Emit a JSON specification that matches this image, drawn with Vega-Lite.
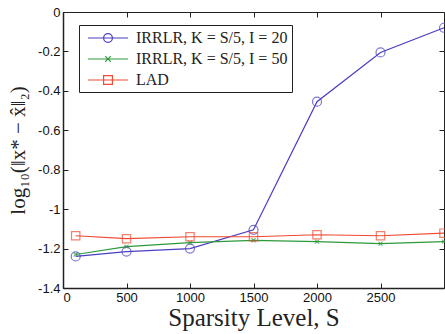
{
  "$schema": "https://vega.github.io/schema/vega-lite/v6.json",
  "autosize": "none",
  "width": 381,
  "height": 276,
  "padding": {"left": 63, "top": 12, "right": 1, "bottom": 46},
  "background": "white",
  "title": {"text": "m = 200, n = 3000", "font": "Liberation Serif", "fontSize": 20, "fontWeight": "normal", "color": "#222", "anchor": "middle", "dx": 62, "baseline": "alphabetic", "offset": 2},
  "config": {
    "view": {"stroke": "#222", "strokeWidth": 1},
    "axis": {"labelFont": "Liberation Sans", "labelFontSize": 13, "labelColor": "#111", "domainColor": "#222", "domainWidth": 1.5, "tickColor": "#222", "grid": false}
  },
  "resolve": {"axis": {"x": "independent", "y": "independent"}},
  "data": {"values": [
    {"series": "IRRLR, K = S/5, I = 20", "S": 100, "err": -1.24},
    {"series": "IRRLR, K = S/5, I = 20", "S": 500, "err": -1.215},
    {"series": "IRRLR, K = S/5, I = 20", "S": 1000, "err": -1.2},
    {"series": "IRRLR, K = S/5, I = 20", "S": 1500, "err": -1.105},
    {"series": "IRRLR, K = S/5, I = 20", "S": 2000, "err": -0.455},
    {"series": "IRRLR, K = S/5, I = 20", "S": 2500, "err": -0.205},
    {"series": "IRRLR, K = S/5, I = 20", "S": 3000, "err": -0.08},
    {"series": "IRRLR, K = S/5, I = 50", "S": 100, "err": -1.23},
    {"series": "IRRLR, K = S/5, I = 50", "S": 500, "err": -1.19},
    {"series": "IRRLR, K = S/5, I = 50", "S": 1000, "err": -1.17},
    {"series": "IRRLR, K = S/5, I = 50", "S": 1500, "err": -1.158},
    {"series": "IRRLR, K = S/5, I = 50", "S": 2000, "err": -1.165},
    {"series": "IRRLR, K = S/5, I = 50", "S": 2500, "err": -1.175},
    {"series": "IRRLR, K = S/5, I = 50", "S": 3000, "err": -1.165},
    {"series": "LAD", "S": 100, "err": -1.135},
    {"series": "LAD", "S": 500, "err": -1.15},
    {"series": "LAD", "S": 1000, "err": -1.14},
    {"series": "LAD", "S": 1500, "err": -1.14},
    {"series": "LAD", "S": 2000, "err": -1.13},
    {"series": "LAD", "S": 2500, "err": -1.135},
    {"series": "LAD", "S": 3000, "err": -1.122}
  ]},
  "layer": [
    {"mark": {"type": "line", "strokeWidth": 1.2},
      "encoding": {
        "x": {"field": "S", "type": "quantitative", "scale": {"domain": [0, 3000], "nice": false},
          "axis": {"values": [0, 500, 1000, 1500, 2000, 2500], "format": "d", "tickSize": -5, "title": "Sparsity Level, S", "titleFont": "Liberation Serif", "titleFontSize": 25, "titleFontWeight": "normal", "titleColor": "#222", "titlePadding": 1, "labelPadding": 8}},
        "y": {"field": "err", "type": "quantitative", "scale": {"domain": [-1.4, 0], "nice": false},
          "axis": {"values": [0, -0.2, -0.4, -0.6, -0.8, -1, -1.2, -1.4], "tickSize": -5, "labelExpr": "replace(format(datum.value, '~g'), '\u2212', '-')", "title": "log\u2081\u2080(\u2016x* \u2212 x\u0302\u2016\u2082)", "titleFont": "Liberation Serif", "titleFontSize": 21, "titleFontWeight": "normal", "titleColor": "#222", "titlePadding": 9, "labelPadding": 8}},
        "color": {"field": "series", "type": "nominal",
          "scale": {"domain": ["IRRLR, K = S/5, I = 20", "IRRLR, K = S/5, I = 50", "LAD"], "range": ["#4a3fc0", "#2e9a3c", "#f04a32"]},
          "legend": {"orient": "none", "legendX": 16, "legendY": 13, "title": null, "labelFont": "Liberation Serif", "labelFontSize": 16, "labelColor": "#222", "strokeColor": "#222", "fillColor": "white", "padding": 4, "rowPadding": 4, "labelOffset": 35, "symbolStrokeWidth": 1.2, "symbolSize": 256, "symbolFillColor": "transparent",
            "encode": {"symbols": {"update": {"shape": {"signal": "datum.value === 'LAD' ? 'M-0.5,0H4.5M1.45,-0.55H2.55V0.55H1.45Z' : (datum.value === 'IRRLR, K = S/5, I = 50' ? 'M-0.5,0H4.5M1.65,-0.35L2.35,0.35M1.65,0.35L2.35,-0.35' : 'M-0.5,0H4.5M1.45,0A0.55,0.55 0 1 0 2.55,0A0.55,0.55 0 1 0 1.45,0')"}, "fill": {"value": "transparent"}}}}}}
      }},
    {"transform": [{"filter": "datum.series === 'IRRLR, K = S/5, I = 20'"}],
      "mark": {"type": "point", "shape": "circle", "filled": false, "strokeWidth": 1.2, "size": 81, "color": "#4a3fc0"},
      "encoding": {
        "x": {"field": "S", "type": "quantitative", "axis": {"orient": "top", "values": [0, 500, 1000, 1500, 2000, 2500], "labels": false, "domain": false, "tickSize": -5, "title": null}},
        "y": {"field": "err", "type": "quantitative", "axis": {"orient": "right", "values": [0, -0.2, -0.4, -0.6, -0.8, -1, -1.2, -1.4], "labels": false, "domain": false, "tickSize": -5, "title": null}}
      }},
    {"transform": [{"filter": "datum.series === 'IRRLR, K = S/5, I = 50'"}],
      "mark": {"type": "point", "shape": "M-0.45,-0.45L0.45,0.45M-0.45,0.45L0.45,-0.45", "filled": false, "strokeWidth": 1.2, "size": 81, "color": "#2e9a3c"},
      "encoding": {
        "x": {"field": "S", "type": "quantitative", "axis": null},
        "y": {"field": "err", "type": "quantitative", "axis": null}
      }},
    {"transform": [{"filter": "datum.series === 'LAD'"}],
      "mark": {"type": "point", "shape": "square", "filled": false, "strokeWidth": 1.2, "size": 70, "color": "#f04a32"},
      "encoding": {
        "x": {"field": "S", "type": "quantitative", "axis": null},
        "y": {"field": "err", "type": "quantitative", "axis": null}
      }}
  ]
}
